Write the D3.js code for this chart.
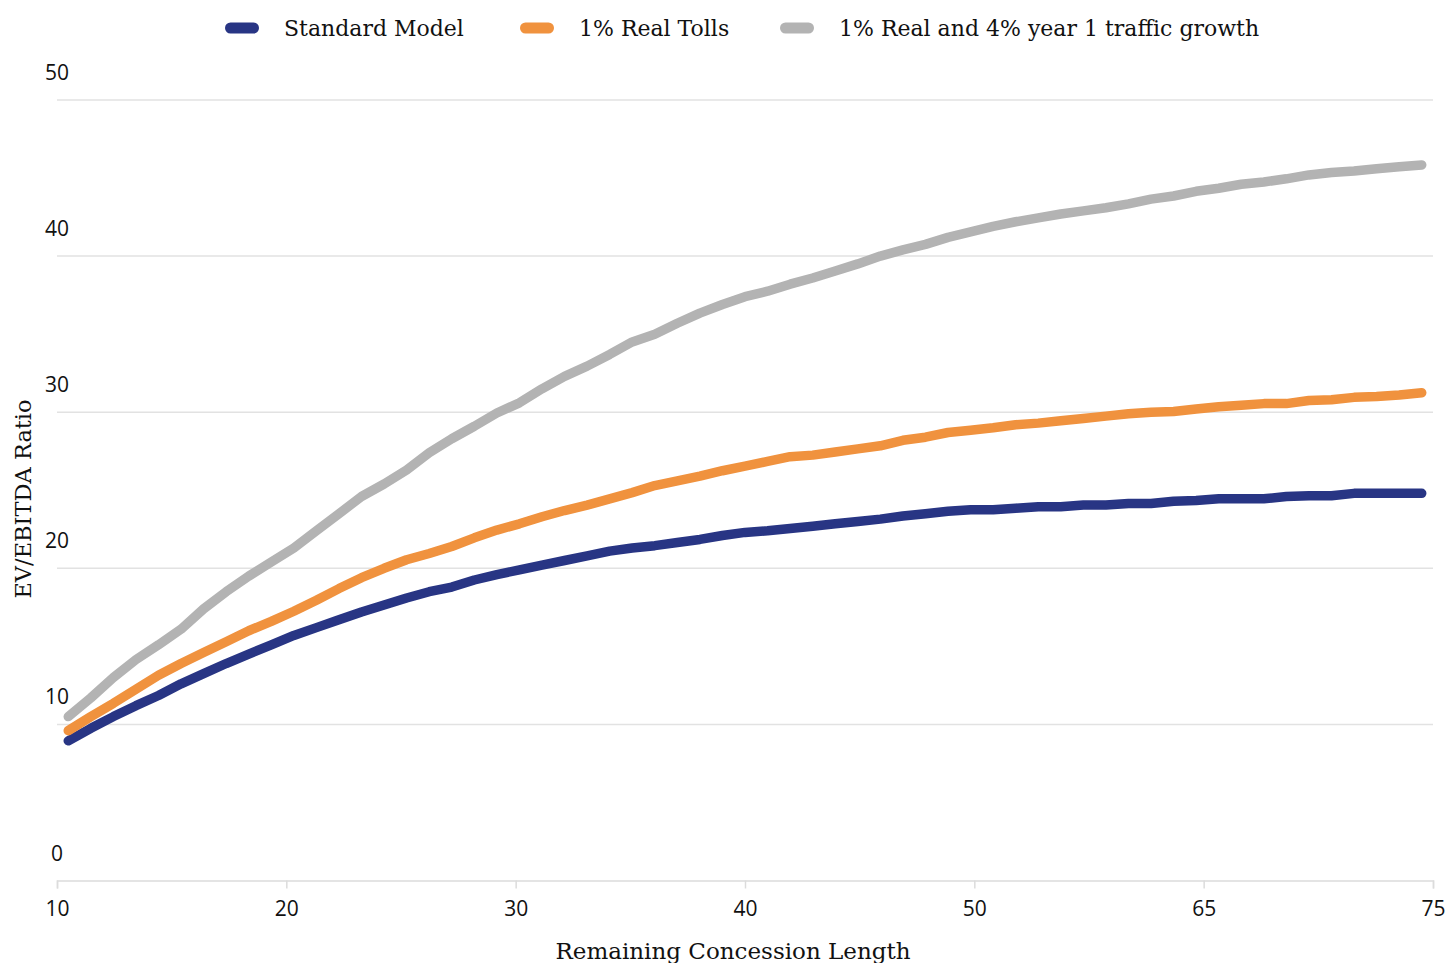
<!DOCTYPE html>
<html>
<head>
<meta charset="utf-8">
<script src="https://cdn.jsdelivr.net/npm/d3@7"></script>
<style>
  html, body { margin: 0; padding: 0; background: #fff; }
  svg { display: block; }
</style>
</head>
<body>
<svg id="chart" width="1449" height="963"></svg>
<script>
// ---- data ----
const seriesNames = ["Standard Model", "1% Real Tolls", "1% Real and 4% year 1 traffic growth"];
const seriesColors = ["#283584", "#F0923E", "#B3B3B3"];
const xTickLabels = ["10", "20", "30", "40", "50", "65", "75"];
const yTicks = [0, 10, 20, 30, 40, 50];

const standardModel = [8.95, 9.75, 10.5, 11.2, 11.85, 12.6, 13.25, 13.9, 14.5, 15.1,
  15.7, 16.2, 16.7, 17.2, 17.65, 18.1, 18.5, 18.8, 19.25, 19.6,
  19.9, 20.2, 20.5, 20.8, 21.1, 21.3, 21.45, 21.65, 21.85, 22.1,
  22.3, 22.4, 22.55, 22.7, 22.85, 23.0, 23.15, 23.35, 23.5, 23.65,
  23.75, 23.75, 23.85, 23.95, 23.95, 24.05, 24.05, 24.15, 24.15, 24.3,
  24.35, 24.45, 24.45, 24.45, 24.6, 24.65, 24.65, 24.8, 24.8, 24.8, 24.8];
const realTolls = [9.6, 10.5, 11.35, 12.25, 13.15, 13.9, 14.6, 15.3, 16.0, 16.6,
  17.25, 17.95, 18.7, 19.4, 20.0, 20.55, 20.95, 21.4, 21.95, 22.45,
  22.85, 23.3, 23.7, 24.05, 24.45, 24.85, 25.3, 25.6, 25.9, 26.25,
  26.55, 26.85, 27.15, 27.25, 27.45, 27.65, 27.85, 28.2, 28.4, 28.7,
  28.85, 29.0, 29.2, 29.3, 29.45, 29.6, 29.75, 29.9, 30.0, 30.05,
  30.2, 30.35, 30.45, 30.55, 30.55, 30.75, 30.8, 30.95, 31.0, 31.1, 31.25];
const realTraffic = [10.5, 11.7, 13.0, 14.15, 15.1, 16.1, 17.4, 18.5, 19.5, 20.4,
  21.3, 22.4, 23.5, 24.6, 25.4, 26.3, 27.4, 28.3, 29.1, 29.95,
  30.6, 31.5, 32.3, 32.95, 33.7, 34.5, 35.0, 35.7, 36.35, 36.9,
  37.4, 37.75, 38.2, 38.6, 39.05, 39.5, 40.0, 40.4, 40.75, 41.2,
  41.55, 41.9, 42.2, 42.45, 42.7, 42.9, 43.1, 43.35, 43.65, 43.85,
  44.15, 44.35, 44.6, 44.75, 44.95, 45.2, 45.35, 45.45, 45.6, 45.72, 45.84];
const allSeries = [standardModel, realTolls, realTraffic];

// ---- layout ----
const svg = d3.select("#chart");
const plotLeft = 57, plotRight = 1433, plotTop = 100, plotBottom = 880.5;

const xBand = d3.scaleBand().domain(d3.range(standardModel.length)).range([plotLeft, plotRight]).padding(0);
const xTick = d3.scalePoint().domain(xTickLabels).range([plotLeft, plotRight]);
const y = d3.scaleLinear().domain([0, 50]).range([plotBottom, plotTop]);

// gridlines
svg.append("g").selectAll("line").data(yTicks.filter(d => d > 0)).join("line")
  .attr("x1", plotLeft).attr("x2", plotRight)
  .attr("y1", d => y(d)).attr("y2", d => y(d))
  .attr("stroke", "#e2e2e2").attr("stroke-width", 1.5);

// y labels (above gridlines)
svg.append("g").selectAll("text").data(yTicks).join("text")
  .attr("x", plotLeft).attr("y", d => y(d) - 20)
  .attr("text-anchor", "middle")
  .attr("font-family", "'Open Sans', sans-serif").attr("font-size", 21)
  .attr("fill", "#111").text(d => d);

// x axis
const xAxis = d3.axisBottom(xTick).tickSize(8).tickPadding(13);
const gx = svg.append("g").attr("transform", `translate(0,${plotBottom})`).call(xAxis);
gx.select(".domain").attr("stroke", "#dcdcdc").attr("stroke-width", 1.5);
gx.selectAll(".tick line").attr("stroke", "#dcdcdc").attr("stroke-width", 1.5);
gx.selectAll(".tick text").attr("font-family", "'Open Sans', sans-serif").attr("font-size", 21).attr("fill", "#111");

// axis titles
svg.append("text").attr("x", 733).attr("y", 959).attr("text-anchor", "middle")
  .attr("font-family", "'DejaVu Serif', serif").attr("font-size", 23).attr("fill", "#111")
  .text("Remaining Concession Length");
svg.append("text").attr("transform", "translate(31,499) rotate(-90)").attr("text-anchor", "middle")
  .attr("font-family", "'DejaVu Serif', serif").attr("font-size", 22.5).attr("fill", "#111")
  .text("EV/EBITDA Ratio");

// lines
const line = d3.line()
  .x((d, i) => xBand(i) + xBand.bandwidth() / 2)
  .y(d => y(d));
svg.append("g").selectAll("path").data(allSeries).join("path")
  .attr("d", d => line(d))
  .attr("fill", "none")
  .attr("stroke", (d, i) => seriesColors[i])
  .attr("stroke-width", 9.5)
  .attr("stroke-linecap", "round")
  .attr("stroke-linejoin", "round");

// legend
const legendX = [225, 520, 780];
const lg = svg.append("g").selectAll("g").data(seriesNames).join("g")
  .attr("transform", (d, i) => `translate(${legendX[i]},28)`);
lg.append("rect").attr("x", 0).attr("y", -5.5).attr("width", 34).attr("height", 11).attr("rx", 5.5)
  .attr("fill", (d, i) => seriesColors[i]);
lg.append("text").attr("x", 59).attr("y", 8)
  .attr("font-family", "'DejaVu Serif', serif").attr("font-size", 22).attr("fill", "#111")
  .text(d => d);
</script>
</body>
</html>
